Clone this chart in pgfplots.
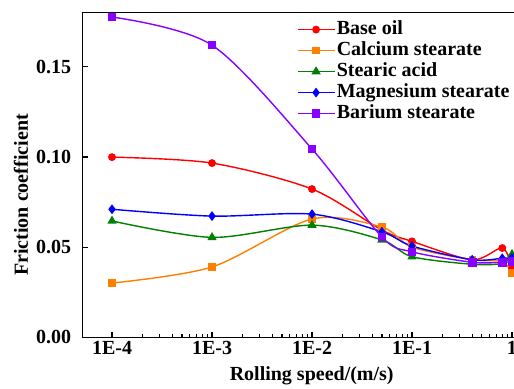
\documentclass[border=0pt]{standalone}
\usepackage{fontspec}
\setmainfont{Liberation Serif}
\usepackage{pgfplots}
\pgfplotsset{compat=1.18}
\usetikzlibrary{calc}
\definecolor{cred}{RGB}{255,0,0}
\definecolor{corange}{RGB}{255,128,0}
\definecolor{cgreen}{RGB}{0,128,0}
\definecolor{cblue}{RGB}{0,0,255}
\definecolor{cpurple}{RGB}{136,0,255}
\begin{document}
\begin{tikzpicture}
\begin{axis}[
  name=ax,
  scale only axis,
  width=219.65pt, height=162.3pt,
  xmode=log,
  xmin=5.09e-5, xmax=1.259,
  ymin=0, ymax=0.18,
  xtick={1e-4,1e-3,1e-2,1e-1,1},
  xticklabels={1E-4,1E-3,1E-2,1E-1,1},
  ytick={0,0.05,0.10,0.15},
  xtick pos=bottom, ytick pos=left,
  tick align=inside,
  major tick length=2.5pt, minor tick length=1.5pt,
  axis line style={line width=0.7pt},
  every tick/.style={black, line width=0.6pt},
  ticklabel style={font=\fontsize{10}{12}\selectfont\bfseries},
  xticklabel style={yshift=1.5pt},
  yticklabel style={xshift=-2.2pt, /pgf/number format/.cd, fixed, fixed zerofill, precision=2, assume math mode=true},
  clip=false,
  legend style={at={(0.4878,0.98)}, anchor=north west, inner sep=0pt, draw=none, fill=none,
    font=\fontsize{10}{12}\selectfont\bfseries,
    nodes={inner xsep=1pt, inner ysep=0.5pt, text height=7pt, text depth=2pt}, row sep=0.5pt},
  legend cell align=left,
  legend image code/.code={\draw[mark repeat=2,mark phase=2] plot coordinates {(0pt,0pt) (9pt,0pt) (18pt,0pt)};},
  every axis plot/.append style={line width=0.7pt},
]
\addplot[cred, smooth, mark=*, mark size=1.6pt] coordinates {
 (1e-4,0.0999) (1e-3,0.0966) (1e-2,0.0822) (5e-2,0.0595) (1e-1,0.0532) (4e-1,0.0430) (8e-1,0.0495) (1,0.0384)};
\addlegendentry{Base oil}
\addplot[corange, smooth, mark=square*, mark size=1.5pt] coordinates {
 (1e-4,0.0301) (1e-3,0.0390) (1e-2,0.0656) (5e-2,0.0611) (1e-1,0.0500) (4e-1,0.0430) (8e-1,0.0420) (1,0.0356)};
\addlegendentry{Calcium stearate}
\addplot[cgreen, smooth, mark=triangle*, mark size=2pt] coordinates {
 (1e-4,0.0645) (1e-3,0.0554) (1e-2,0.0622) (5e-2,0.0540) (1e-1,0.0447) (4e-1,0.0405) (8e-1,0.0410) (1,0.0460)};
\addlegendentry{Stearic acid}
\addplot[cblue, smooth, mark=diamond*, mark size=1.9pt] coordinates {
 (1e-4,0.0710) (1e-3,0.0672) (1e-2,0.0683) (5e-2,0.0585) (1e-1,0.0506) (4e-1,0.0430) (8e-1,0.0438) (1,0.0440)};
\addlegendentry{Magnesium stearate}
\addplot[cpurple, smooth, mark=square*, mark size=1.8pt] coordinates {
 (1e-4,0.1776) (1e-3,0.1620) (1e-2,0.1044) (5e-2,0.0556) (1e-1,0.0474) (4e-1,0.0416) (8e-1,0.0416) (1,0.0420)};
\addlegendentry{Barium stearate}
\end{axis}
\node[rotate=90, inner sep=0pt, anchor=center, font=\fontsize{10}{12}\selectfont\bfseries]
  at ($(ax.south west)+(-30.85pt,71.15pt)$) {Friction coefficient};
\node[inner sep=0pt, anchor=center, font=\fontsize{10}{12}\selectfont\bfseries]
  at ($(ax.south west)+(114.5pt,-19.35pt)$) {Rolling speed/(m/s)};
\pgfresetboundingbox
\path ($(ax.south west)+(-41.35pt,-25.85pt)$) rectangle ($(ax.south west)+(215.65pt,168.65pt)$);
\end{tikzpicture}
\end{document}
